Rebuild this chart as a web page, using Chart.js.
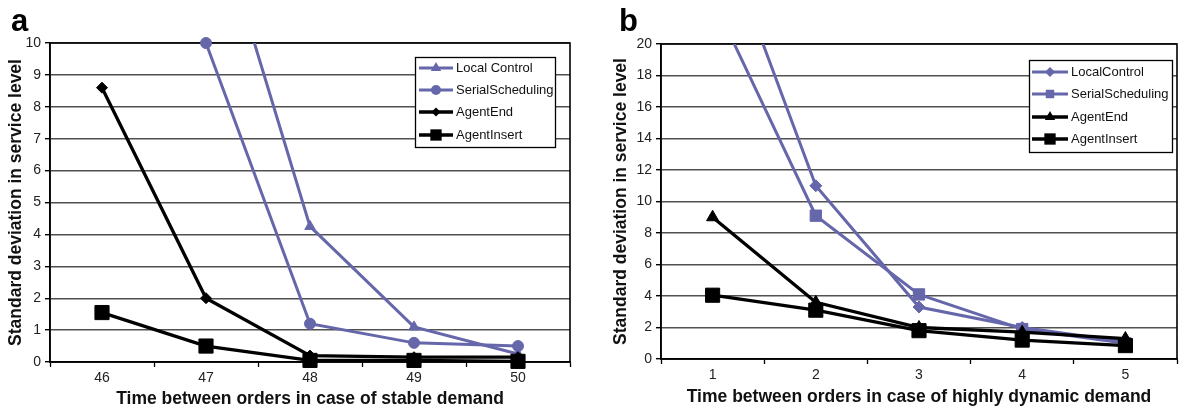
<!DOCTYPE html>
<html>
<head>
<meta charset="utf-8">
<script src="https://cdn.jsdelivr.net/npm/chart.js@4/dist/chart.umd.min.js"></script>
<style>
  html, body { margin: 0; padding: 0; background: #fff; }
  .panel { position: absolute; top: 0; width: 594px; height: 411px; }
</style>
</head>
<body>
<div class="panel" style="left:0"><canvas id="chartA" width="594" height="411"></canvas></div>
<div class="panel" style="left:594px"><canvas id="chartB" width="594" height="411"></canvas></div>
<script>
// panel a - stable demand
const categoriesA = ['46', '47', '48', '49', '50'];
const localControlA = [null, 15, 4.25, 1.1, 0.25];
const serialSchedulingA = [null, 10, 1.2, 0.6, 0.5];
const agentEndA = [8.6, 2.0, 0.2, 0.15, 0.15];
const agentInsertA = [1.55, 0.5, 0.05, 0.05, 0.02];

// panel b - highly dynamic demand
const categoriesB = ['1', '2', '3', '4', '5'];
const localControlB = [28.6, 11, 3.3, 2.0, 1.1];
const serialSchedulingB = [22.9, 9.1, 4.1, 1.9, 1.0];
const agentEndB = [9.0, 3.6, 2.0, 1.7, 1.3];
const agentInsertB = [4.05, 3.1, 1.8, 1.2, 0.85];

const PURPLE = '#6666aa';
const BLACK = '#000000';
const FONT = '"Liberation Sans", Arial, sans-serif';

// draw a marker shape (used by the in-plot legend)
function drawMarker(ctx, style, x, y, r, color) {
  ctx.fillStyle = color;
  ctx.beginPath();
  if (style === 'triangle') {
    ctx.moveTo(x, y - r);
    ctx.lineTo(x + r * 0.866, y + r * 0.5);
    ctx.lineTo(x - r * 0.866, y + r * 0.5);
    ctx.closePath();
  } else if (style === 'rect') {
    const s = r * Math.SQRT1_2;
    ctx.rect(x - s, y - s, 2 * s, 2 * s);
  } else if (style === 'rectRot') {
    ctx.moveTo(x, y - r); ctx.lineTo(x + r, y); ctx.lineTo(x, y + r); ctx.lineTo(x - r, y);
    ctx.closePath();
  } else {
    ctx.arc(x, y, r, 0, Math.PI * 2);
  }
  ctx.fill();
}

const insideLegend = {
  id: 'insideLegend',
  afterDraw(chart, args, o) {
    const ctx = chart.ctx;
    ctx.save();
    ctx.fillStyle = '#fff';
    ctx.fillRect(o.x, o.y, o.w, o.h);
    ctx.strokeStyle = '#000';
    ctx.lineWidth = 1.3;
    ctx.strokeRect(o.x + 0.5, o.y + 0.5, o.w, o.h);
    ctx.font = '13px ' + FONT;
    ctx.textBaseline = 'middle';
    chart.data.datasets.forEach((ds, i) => {
      const y = o.rows[i];
      ctx.strokeStyle = ds.borderColor;
      ctx.lineWidth = ds.borderWidth;
      ctx.beginPath();
      ctx.moveTo(o.x0, y);
      ctx.lineTo(o.x1, y);
      ctx.stroke();
      drawMarker(ctx, ds.pointStyle, (o.x0 + o.x1) / 2, y, o.marks[i], ds.borderColor);
      ctx.fillStyle = '#111';
      ctx.fillText(ds.label, o.x1 + 3, y);
    });
    // panel letter
    ctx.font = 'bold 31px ' + FONT;
    ctx.fillStyle = '#000';
    ctx.textBaseline = 'alphabetic';
    ctx.fillText(o.letter, o.letterX, 31);
    ctx.restore();
  }
};

const plotFrame = {
  id: 'plotFrame',
  beforeDatasetsDraw(chart) {
    const a = chart.chartArea;
    const ctx = chart.ctx;
    ctx.save();
    ctx.strokeStyle = '#000';
    ctx.lineWidth = 1.6;
    ctx.strokeRect(a.left, a.top, a.right - a.left, a.bottom - a.top);
    ctx.restore();
  }
};

function series(label, data, color, style, radius, clipTop, order) {
  return {
    label, data,
    borderColor: color,
    backgroundColor: color,
    borderWidth: color === BLACK ? 3.3 : 3,
    pointStyle: style,
    pointRadius: radius,
    pointHoverRadius: radius,
    pointBackgroundColor: color,
    pointBorderColor: color,
    pointBorderWidth: 1,
    tension: 0,
    order: order,
    clip: { left: 20, top: clipTop, right: 20, bottom: 20 }
  };
}

function makeChart(id, cfg) {
  return new Chart(document.getElementById(id), {
    type: 'line',
    data: { labels: cfg.labels, datasets: cfg.datasets },
    options: {
      responsive: false,
      animation: false,
      layout: { padding: { top: cfg.top, right: cfg.right, left: 0, bottom: 0 } },
      plugins: {
        legend: { display: false },
        tooltip: { enabled: false },
        insideLegend: cfg.legend
      },
      scales: {
        x: {
          offset: true,
          afterFit: s => { s.height = cfg.xHeight; },
          grid: { offset: true, drawOnChartArea: false, tickLength: 5, tickColor: '#000', tickWidth: 1.3 },
          border: { color: '#000', width: 1.6 },
          ticks: { color: '#222', padding: 3, font: { family: FONT, size: 14 } },
          title: {
            display: true, text: cfg.xTitle, color: '#111',
            font: { family: FONT, size: 17.5, weight: 'bold' },
            padding: { top: 0, bottom: cfg.xTitlePad }
          }
        },
        y: {
          min: 0, max: cfg.yMax,
          afterFit: s => { s.width = cfg.yWidth; },
          grid: { color: '#505050', lineWidth: 1.4, tickLength: 5, tickColor: '#000' },
          border: { color: '#000', width: 1.6 },
          ticks: { stepSize: cfg.yStep, color: '#222', padding: 4, font: { family: FONT, size: 14 } },
          title: {
            display: true, text: 'Standard deviation in service level', color: '#111',
            font: { family: FONT, size: 17.5, weight: 'bold' },
            padding: { top: cfg.yTitlePad, bottom: 0 }
          }
        }
      }
    },
    plugins: [plotFrame, insideLegend]
  });
}

makeChart('chartA', {
  labels: categoriesA,
  datasets: [
    series('Local Control', localControlA, PURPLE, 'triangle', 6, 0, 1),
    series('SerialScheduling', serialSchedulingA, PURPLE, 'circle', 5.5, 8, 1),
    series('AgentEnd', agentEndA, BLACK, 'rectRot', 5.5, 0, 0),
    series('AgentInsert', agentInsertA, BLACK, 'rect', 10, 0, 0)
  ],
  top: 43, right: 24, yWidth: 50, xHeight: 49, yMax: 10, yStep: 1,
  yTitlePad: 6, xTitlePad: 1,
  xTitle: 'Time between orders in case of stable demand',
  legend: { x: 415, y: 57, w: 140, h: 90, rows: [68, 90, 112, 135], x0: 419, x1: 453,
            marks: [6, 5, 4.5, 8], letter: 'a', letterX: 11 }
});

makeChart('chartB', {
  labels: categoriesB,
  datasets: [
    series('LocalControl', localControlB, PURPLE, 'rectRot', 6, 0, 1),
    series('SerialScheduling', serialSchedulingB, PURPLE, 'rect', 8, 0, 1),
    series('AgentEnd', agentEndB, BLACK, 'triangle', 7, 0, 0),
    series('AgentInsert', agentInsertB, BLACK, 'rect', 10, 0, 0)
  ],
  top: 44, right: 1, yWidth: 67, xHeight: 52, yMax: 20, yStep: 2,
  yTitlePad: 17, xTitlePad: 3,
  xTitle: 'Time between orders in case of highly dynamic demand',
  legend: { x: 435, y: 60, w: 143, h: 92, rows: [72, 94, 117, 139], x0: 438, x1: 474,
            marks: [5, 6, 6, 8], letter: 'b', letterX: 25 }
});
</script>
</body>
</html>
